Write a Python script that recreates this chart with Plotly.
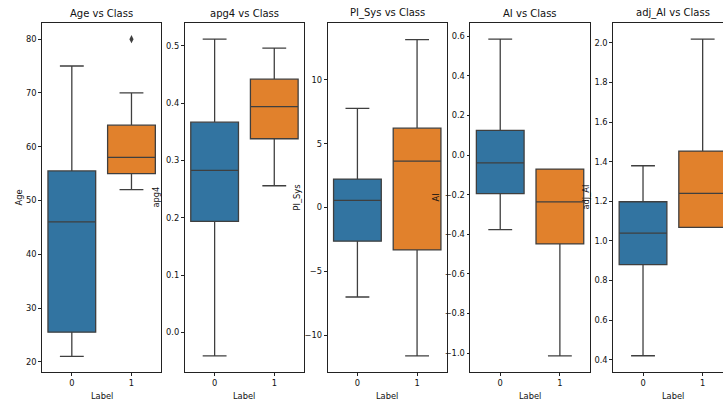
import plotly.graph_objects as go

# Five-number summaries per class: [lower whisker, Q1, median, Q3, upper whisker]
age_class0 = [21.0, 25.5, 46.0, 55.5, 75.0]
age_class1 = [52.0, 55.0, 58.0, 64.0, 70.0]
age_class1_outliers = [80.0]

apg4_class0 = [-0.041, 0.194, 0.283, 0.367, 0.512]
apg4_class1 = [0.256, 0.338, 0.394, 0.442, 0.496]

pisys_class0 = [-7.0, -2.63, 0.57, 2.23, 7.76]
pisys_class1 = [-11.6, -3.31, 3.64, 6.22, 13.15]

ai_class0 = [-0.377, -0.195, -0.040, 0.125, 0.586]
ai_class1 = [-1.015, -0.449, -0.237, -0.071, -0.071]

adjai_class0 = [0.42, 0.88, 1.04, 1.198, 1.38]
adjai_class1 = [1.069, 1.069, 1.24, 1.454, 2.02]

classes = [0, 1]
class_labels = ["0", "1"]
features = ["Age", "apg4", "PI_Sys", "AI", "adj_AI"]

age_ticks = [20, 30, 40, 50, 60, 70, 80]
apg4_ticks = [0.0, 0.1, 0.2, 0.3, 0.4, 0.5]
pisys_ticks = [-10, -5, 0, 5, 10]
ai_ticks = [-1.0, -0.8, -0.6, -0.4, -0.2, 0.0, 0.2, 0.4, 0.6]
adjai_ticks = [0.4, 0.6, 0.8, 1.0, 1.2, 1.4, 1.6, 1.8, 2.0]

summaries = [
    (age_class0, age_class1),
    (apg4_class0, apg4_class1),
    (pisys_class0, pisys_class1),
    (ai_class0, ai_class1),
    (adjai_class0, adjai_class1),
]
tick_sets = [age_ticks, apg4_ticks, pisys_ticks, ai_ticks, adjai_ticks]
tick_formats = ["d", ".1f", "d", ".1f", ".1f"]
y_ranges = [[18.1, 83.0], [-0.069, 0.540], [-12.87, 14.45], [-1.096, 0.667], [0.338, 2.101]]

COLORS = ["#3274a1", "#e1812c"]
EDGE = "#3f3f3f"
AXIS = "#222222"
FONT = "DejaVu Sans"

W, H = 723, 403
AX_LEFT0, AX_STEP, AX_WIDTH = 42.0, 142.8, 119.3
AX_TOP, AX_BOTTOM = 23.0, 372.0
YLABEL_X = [18, 155, 296, 435, 585]

fig = go.Figure()
layout = dict(
    width=W, height=H,
    margin=dict(l=0, r=0, t=0, b=0),
    paper_bgcolor="white", plot_bgcolor="white",
    showlegend=False,
    font=dict(family=FONT, size=8.3, color="#111111"),
)
annotations = []
ydom = [1 - AX_BOTTOM / H, 1 - AX_TOP / H]
px_per_unit = AX_WIDTH / 2.0

for i, feat in enumerate(features):
    sfx = "" if i == 0 else str(i + 1)
    xa, ya = "x" + sfx, "y" + sfx
    left = AX_LEFT0 + i * AX_STEP
    right = left + AX_WIDTH
    right_vis = min(right, W)
    x_hi = -0.5 + (right_vis - left) / px_per_unit

    for c, stats in zip(classes, summaries[i]):
        lo, q1, med, q3, hi = stats
        fig.add_trace(go.Box(
            x=[c], lowerfence=[lo], q1=[q1], median=[med], q3=[q3], upperfence=[hi],
            width=0.8, whiskerwidth=0.5,
            fillcolor=COLORS[c], line=dict(color=EDGE, width=1.3),
            boxpoints=False, xaxis=xa, yaxis=ya, name=str(c),
        ))

    if feat == "Age":
        fig.add_trace(go.Scatter(
            x=[1] * len(age_class1_outliers), y=age_class1_outliers, mode="markers",
            marker=dict(symbol="diamond-tall", size=6, color=EDGE),
            xaxis=xa, yaxis=ya, name="outlier",
        ))

    layout["xaxis" + sfx] = dict(
        domain=[left / W, right_vis / W], anchor=ya, range=[-0.5, x_hi],
        tickvals=classes, ticktext=class_labels, ticks="outside", ticklen=3,
        tickwidth=0.8, tickcolor=AXIS, showline=True, linecolor=AXIS, linewidth=0.8,
        mirror=True, showgrid=False, zeroline=False, fixedrange=True,
        tickfont=dict(family=FONT, size=8.3, color="#111111"),
    )
    layout["yaxis" + sfx] = dict(
        domain=ydom, anchor=xa, range=y_ranges[i],
        tickvals=tick_sets[i], tickformat=tick_formats[i], ticks="outside", ticklen=3,
        tickwidth=0.8, tickcolor=AXIS, showline=True, linecolor=AXIS, linewidth=0.8,
        mirror=(right <= W), showgrid=False, zeroline=False, fixedrange=True,
        tickfont=dict(family=FONT, size=8.3, color="#111111"),
    )

    center = (left + right) / 2.0
    annotations.append(dict(
        text=f"{feat} vs Class", xref="paper", yref="paper",
        x=center / W, y=1 - AX_TOP / H, xanchor="center", yanchor="bottom",
        yshift=2, showarrow=False, font=dict(family=FONT, size=10, color="#111111"),
    ))
    annotations.append(dict(
        text="Label", xref="paper", yref="paper",
        x=center / W, y=1 - 396 / H, xanchor="center", yanchor="middle",
        showarrow=False, font=dict(family=FONT, size=8.3, color="#111111"),
    ))
    annotations.append(dict(
        text=feat, xref="paper", yref="paper", textangle=-90,
        x=YLABEL_X[i] / W, y=(ydom[0] + ydom[1]) / 2, xanchor="center", yanchor="middle",
        showarrow=False, font=dict(family=FONT, size=8.3, color="#111111"),
    ))

layout["annotations"] = annotations
fig.update_layout(**layout)
fig.write_html("out.html")
